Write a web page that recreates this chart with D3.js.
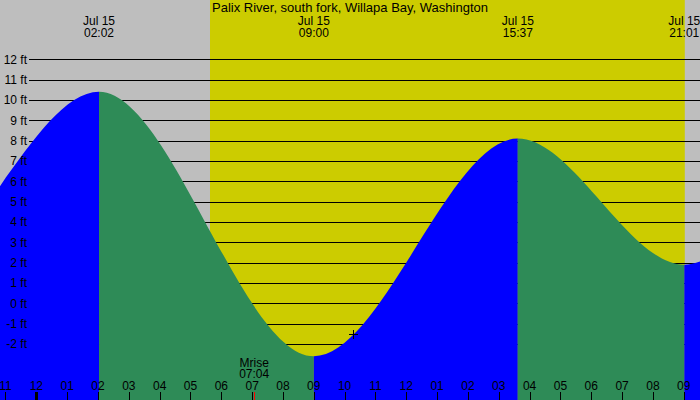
<!DOCTYPE html>
<html>
<head>
<meta charset="utf-8">
<script src="https://cdn.jsdelivr.net/npm/d3@7"></script>
<style>
html,body{margin:0;padding:0;background:#fff;}
svg{display:block;}
text{font-family:"Liberation Sans",Arial,sans-serif;fill:#000;}
</style>
</head>
<body>
<svg id="chart" width="700" height="400"></svg>
<script>
// ---- data ----
const title = "Palix River, south fork, Willapa Bay, Washington";
const tideTimes = ["2024-07-14T13:40","2024-07-14T19:50","2024-07-15T02:02","2024-07-15T09:00","2024-07-15T15:37","2024-07-15T21:01","2024-07-16T03:05","2024-07-16T09:50"];
const tideHeights = [8.6, 1.6, 10.4, -2.6, 8.1, 1.9, 9.6, -2.0];
const labeledTides = ["2024-07-15T02:02","2024-07-15T09:00","2024-07-15T15:37","2024-07-15T21:01"];
const labeledText = ["02:02","09:00","15:37","21:01"];
const dateLabel = "Jul 15";
const sunTimes = ["2024-07-15T05:38","2024-07-15T21:02"];
const moonRise = "2024-07-15T07:04";
const moonRiseText = ["Mrise","07:04"];
const yTicks = [-2,-1,0,1,2,3,4,5,6,7,8,9,10,11,12];
const nowTime = "2024-07-15T10:16";
const nowHeight = -1.52;
const domainTimes = ["2024-07-14T22:49:18","2024-07-15T21:31:36"];

const parse = d3.isoParse;
const W = 700, H = 400;
const svg = d3.select("#chart");

const x = d3.scaleTime().domain(domainTimes.map(parse)).range([0, W]);
const y = d3.scaleLinear().domain([-2, 12]).range([344, 59.3]);

// background
svg.append("rect").attr("x",0).attr("y",0).attr("width",W).attr("height",H).attr("fill","#bebebe");
svg.append("rect")
  .attr("x", x(parse(sunTimes[0]))).attr("y",0)
  .attr("width", x(parse(sunTimes[1])) - x(parse(sunTimes[0])))
  .attr("height", H).attr("fill","#cccc00");

// gridlines
svg.append("g").selectAll("line").data(yTicks).join("line")
  .attr("x1",29).attr("x2",W)
  .attr("y1",d=>Math.round(y(d))+0.5).attr("y2",d=>Math.round(y(d))+0.5)
  .attr("stroke","#000").attr("stroke-width",1);

// tide area
const pts = tideTimes.map((t,i)=>({t:parse(t), h:tideHeights[i]}));
const area = d3.area().x(d=>x(d.t)).y0(H).y1(d=>y(d.h)).curve(d3.curveMonotoneX);
const defs = svg.append("defs");
for (let i=0;i<pts.length-1;i++){
  const x0 = x(pts[i].t), x1 = x(pts[i+1].t);
  const id = "seg"+i;
  defs.append("clipPath").attr("id",id).append("rect")
    .attr("x",x0).attr("y",0).attr("width",x1-x0).attr("height",H);
  svg.append("path").datum(pts).attr("d",area)
    .attr("clip-path","url(#"+id+")")
    .attr("fill", pts[i+1].h > pts[i].h ? "#0000ff" : "#2e8b57");
}

// y labels
svg.append("g").selectAll("text").data(yTicks).join("text")
  .attr("x",27).attr("y",d=>y(d)).attr("dy","0.35em")
  .attr("text-anchor","end").attr("font-size","12px")
  .text(d=>d+" ft");

// title
svg.append("text").attr("x",W/2).attr("y",11.5).attr("text-anchor","middle")
  .attr("font-size","13px").text(title);

// tide labels at top
const tl = svg.append("g").selectAll("g").data(labeledTides).join("g")
  .attr("transform",d=>`translate(${x(parse(d))},0)`);
tl.append("text").attr("y",24.5).attr("text-anchor","middle").attr("font-size","12px").text(dateLabel);
tl.append("text").attr("y",36.5).attr("text-anchor","middle").attr("font-size","12px").text((d,i)=>labeledText[i]);

// hour ticks
const hours = x.ticks(d3.timeHour.every(1));
const fmt = d3.timeFormat("%I");
svg.append("g").selectAll("line").data(hours).join("line")
  .attr("x1",d=>Math.round(x(d))+0.5).attr("x2",d=>Math.round(x(d))+0.5)
  .attr("y1",392).attr("y2",H)
  .attr("stroke","#000").attr("stroke-width",d=>d.getHours()===0?3:1);
svg.append("g").selectAll("text").data(hours).join("text")
  .attr("x",d=>x(d)).attr("y",390).attr("text-anchor","middle").attr("font-size","12px")
  .text(d=>fmt(d));

// moonrise
const mx = x(parse(moonRise));
svg.append("line").attr("x1",Math.round(mx)+0.5).attr("x2",Math.round(mx)+0.5)
  .attr("y1",392).attr("y2",H).attr("stroke","#ff0000").attr("stroke-width",1);
svg.append("text").attr("x",mx).attr("y",366.5).attr("text-anchor","middle").attr("font-size","12px").text(moonRiseText[0]);
svg.append("text").attr("x",mx).attr("y",378).attr("text-anchor","middle").attr("font-size","12px").text(moonRiseText[1]);

// current-time cross
const cx = Math.round(x(parse(nowTime)))+0.5, cy = Math.round(y(nowHeight))+0.5;
svg.append("path").attr("d",`M${cx-4.5},${cy}H${cx+4.5}M${cx},${cy-4.5}V${cy+4.5}`)
  .attr("stroke","#000").attr("stroke-width",1);
</script>
</body>
</html>
